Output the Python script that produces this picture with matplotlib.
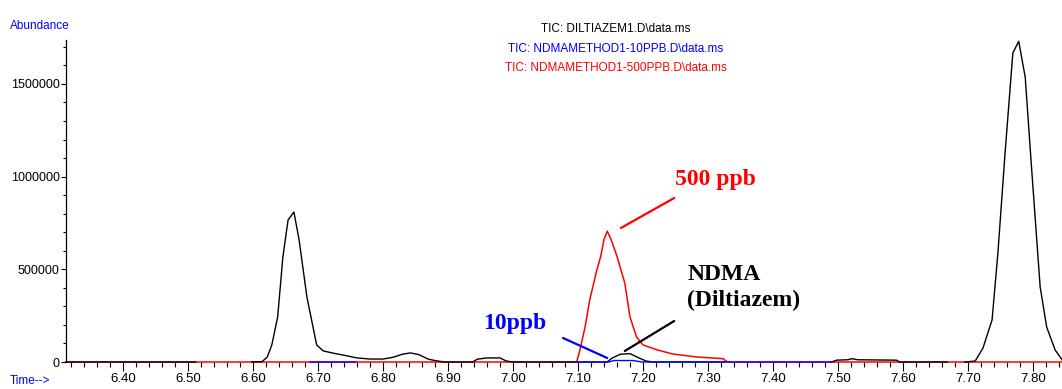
import numpy as np
import matplotlib
matplotlib.use("Agg")
import matplotlib.pyplot as plt
from matplotlib.ticker import MultipleLocator

nan = np.nan

# TIC: DILTIAZEM1.D (black)
black_t = [6.312, 6.512, nan,
           6.598, 6.614, 6.622, 6.629, 6.638, 6.646, 6.654, 6.663, 6.671, 6.683,
           6.698, 6.708, 6.723, 6.738, 6.760, 6.780, 6.800, 6.815, 6.830, 6.842,
           6.855, 6.870, 6.880, 6.894, 6.938, 6.945, 6.960, 6.980, 6.990, 7.000,
           7.145, 7.152, 7.165, 7.180, 7.195, 7.205, 7.215, 7.326, nan,
           7.490, 7.498, 7.515, 7.522, 7.530, 7.590, 7.595, 7.668, nan,
           7.695, 7.711, 7.723, 7.737, 7.746, 7.757, 7.769, 7.778, 7.788, 7.798,
           7.811, 7.821, 7.834, 7.845]
black_v = [0, 0, nan,
           0, 2000, 27000, 92000, 243000, 566000, 766000, 809000, 658000, 350000,
           92000, 60000, 48000, 38000, 22000, 16000, 16000, 25000, 42000, 49000,
           40000, 15000, 8000, 0, 0, 15000, 22000, 22000, 5000, 0,
           0, 20000, 42000, 45000, 20000, 5000, 0, 0, nan,
           0, 10000, 12000, 18000, 12000, 10000, 0, 0, nan,
           0, 5000, 75000, 227000, 588000, 1127000, 1667000, 1730000, 1537000, 1036000,
           405000, 189000, 65000, 11000]

# TIC: NDMAMETHOD1-10PPB.D (blue)
blue_t = [6.688, 6.758, nan, 7.098, 7.148, 7.155, 7.185, 7.198, 7.490]
blue_v = [0, 0, nan, 0, 0, 8000, 8000, 0, 0]

# TIC: NDMAMETHOD1-500PPB.D (red)
red_t = [6.312, 7.098, 7.103, 7.111, 7.118, 7.129, 7.135, 7.140, 7.145, 7.151,
         7.160, 7.172, 7.180, 7.190, 7.200, 7.222, 7.246, 7.283, 7.323, 7.330, 7.845]
red_v = [0, 0, 65000, 190000, 334000, 496000, 570000, 660000, 706000, 660000,
         570000, 426000, 243000, 135000, 92000, 65000, 43000, 27000, 18000, 0, 0]

x_ticks = [6.40, 6.50, 6.60, 6.70, 6.80, 6.90, 7.00, 7.10, 7.20, 7.30, 7.40, 7.50, 7.60, 7.70, 7.80]
x_labels = ["6.40", "6.50", "6.60", "6.70", "6.80", "6.90", "7.00", "7.10", "7.20",
            "7.30", "7.40", "7.50", "7.60", "7.70", "7.80"]
y_ticks = [0, 500000, 1000000, 1500000]
y_labels = ["0", "500000", "1000000", "1500000"]

legend_lines = ["TIC: DILTIAZEM1.D\\data.ms",
                "TIC: NDMAMETHOD1-10PPB.D\\data.ms",
                "TIC: NDMAMETHOD1-500PPB.D\\data.ms"]
legend_colors = ["#000000", "#0000ff", "#ff0000"]

# callouts: text, text position, line tail, line tip, colour, alignment
callouts = [
    ("500 ppb", (7.249, 955000), (7.248, 884600), (7.166, 722800), "#ff0000", "left", "baseline"),
    ("NDMA\n(Diltiazem)", (7.268, 528600), (7.248, 221200), (7.172, 59300), "#000000", "left", "top"),
    ("10ppb", (7.0508, 178000), (7.077, 129500), (7.145, 21600), "#0000ff", "right", "baseline"),
]

narrow = ["Liberation Sans Narrow", "Liberation Sans", "DejaVu Sans"]
plt.rcParams["font.family"] = narrow

fig = plt.figure(figsize=(10.62, 3.89), dpi=100)
ax = fig.add_axes([0.0621, 0.0694, 0.9379, 0.8278])

ax.plot(red_t, red_v, color="#ff0000", lw=1.1, clip_on=False, zorder=2)
ax.plot(black_t, black_v, color="#000000", lw=1.0, clip_on=False, zorder=3)
ax.plot(blue_t, blue_v, color="#0000ff", lw=1.0, clip_on=False, zorder=4)

ax.set_xlim(6.3123, 7.8446)
ax.set_ylim(0, 1737000)

ax.set_xticks(x_ticks)
ax.set_xticklabels(x_labels)
ax.xaxis.set_minor_locator(MultipleLocator(0.02))
ax.set_yticks(y_ticks)
ax.set_yticklabels(y_labels)
ax.yaxis.set_minor_locator(MultipleLocator(100000))

for s in ["top", "right", "bottom"]:
    ax.spines[s].set_visible(False)
ax.spines["left"].set_linewidth(0.9)

ax.tick_params(axis="x", which="major", direction="out", length=6.5, width=0.8, pad=1.5, labelsize=9.5)
ax.tick_params(axis="x", which="minor", direction="out", length=3.6, width=0.8)
ax.tick_params(axis="y", which="major", direction="out", length=3.5, width=0.8, pad=1, labelsize=9)
ax.tick_params(axis="y", which="minor", direction="out", length=2, width=0.8)

# header lines
for i, (txt, col) in enumerate(zip(legend_lines, legend_colors)):
    fig.text(0.58, 0.9254 - i * 0.0501, txt, color=col, fontsize=8.5, ha="center", va="center")

fig.text(0.0094, 0.932, "Abundance", color="#0000ff", fontsize=8.5, ha="left", va="center")
fig.text(0.0094, 0.0206, "Time-->", color="#0000ff", fontsize=8.5, ha="left", va="center")

for txt, pos, tail, tip, col, ha, va in callouts:
    ax.annotate("", xy=tip, xytext=tail,
                arrowprops=dict(arrowstyle="-", color=col, lw=1.6, shrinkA=0, shrinkB=0))
    ax.text(pos[0], pos[1], txt, color=col, ha=ha, va=va, fontsize=17,
            fontweight="bold", family=["Liberation Serif", "DejaVu Serif"], linespacing=1.3)

fig.savefig("out.png", dpi=100)
